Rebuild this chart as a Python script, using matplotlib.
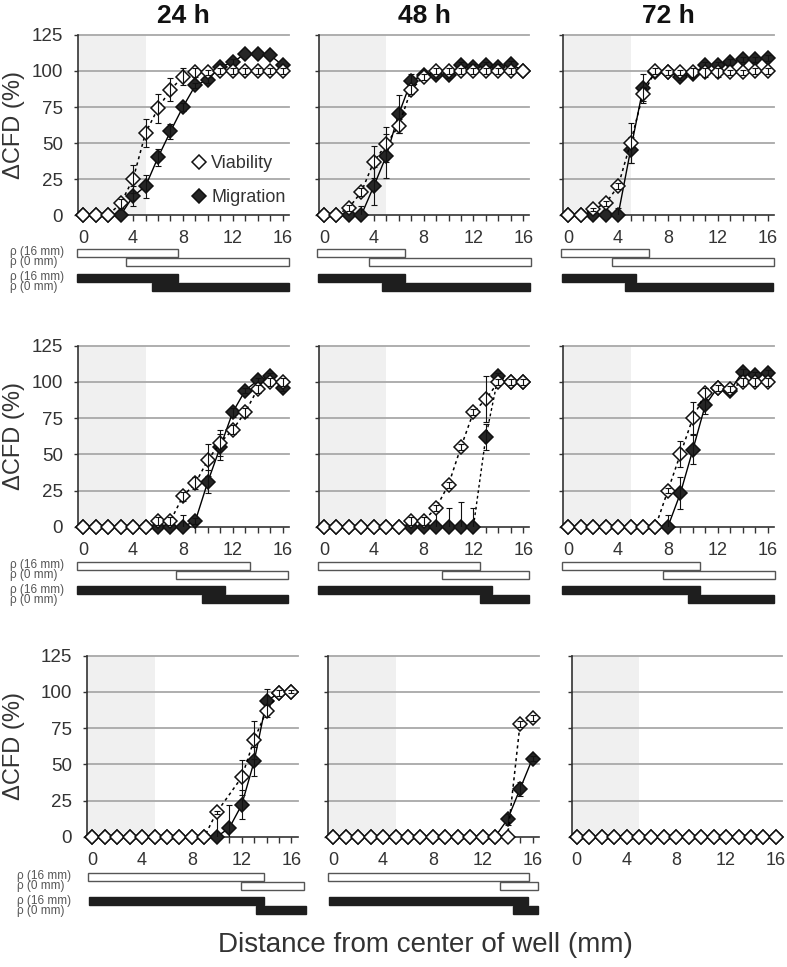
import numpy as np
import matplotlib
matplotlib.use('Agg')
import matplotlib.pyplot as plt
from matplotlib.lines import Line2D

plt.rcParams['font.family'] = ['Liberation Sans', 'DejaVu Sans']

W, H = 787, 967
fig = plt.figure(figsize=(W / 100, H / 100), dpi=100)

# ---------------- data ----------------
dist = np.arange(17)
nan = np.nan
col_titles = ['24 h', '48 h', '72 h']

# row 1
via_r1_24 = [0, 0, 0, 8, 25, 57, 74, 87, 96, 99, 99, 100, 100, 100, 100, 100, 100]
mig_r1_24 = [0, 0, 0, 0, 13, 20, 40, 58, 75, 90, 94, 103, 106, 112, 112, 111, 104]
via_r1_48 = [0, 0, 5, 16, 37, 49, 62, 87, 96, 100, 100, 100, 100, 100, 100, 100, 100]
mig_r1_48 = [0, 0, 0, 0, 20, 41, 70, 93, 97, 97, 97, 104, 103, 104, 103, 105, 100]
via_r1_72 = [0, 0, 4, 8, 20, 50, 84, 100, 99, 99, 99, 99, 99, 99, 99, 100, 100]
mig_r1_72 = [0, 0, 0, 0, 0, 45, 88, 99, 99, 96, 98, 104, 104, 106, 108, 108, 109]
# row 2
via_r2_24 = [0, 0, 0, 0, 0, 0, 4, 4, 21, 30, 46, 58, 67, 79, 95, 100, 100]
mig_r2_24 = [0, 0, 0, 0, 0, 0, 0, 0, 0, 4, 31, 55, 79, 94, 101, 104, 96]
via_r2_48 = [0, 0, 0, 0, 0, 0, 0, 4, 4, 13, 29, 55, 79, 88, 100, 100, 100]
mig_r2_48 = [0, 0, 0, 0, 0, 0, 0, 0, 0, 0, 0, 0, 0, 62, 104, 100, 100]
via_r2_72 = [0, 0, 0, 0, 0, 0, 0, 0, 25, 50, 75, 92, 96, 95, 100, 100, 100]
mig_r2_72 = [0, 0, 0, 0, 0, 0, 0, 0, 0, 23, 53, 84, 96, 94, 107, 105, 106]
# row 3
via_r3_24 = [0, 0, 0, 0, 0, 0, 0, 0, 0, 0, 17, nan, 41, 67, 87, 99, 100]
mig_r3_24 = [0, 0, 0, 0, 0, 0, 0, 0, 0, 0, 0, 6, 22, 52, 94, 99, 100]
via_r3_48 = [0, 0, 0, 0, 0, 0, 0, 0, 0, 0, 0, 0, 0, 0, 0, 78, 82]
mig_r3_48 = [0, 0, 0, 0, 0, 0, 0, 0, 0, 0, 0, 0, 0, 0, 12, 33, 54]
via_r3_72 = [0] * 17
mig_r3_72 = [0] * 17

# error bars (SD)
via_err_r1_24 = [0, 0, 0, 3, 10, 10, 10, 8, 6, 3, 2, 2, 2, 2, 2, 2, 2]
mig_err_r1_24 = [0, 0, 0, 0, 7, 8, 6, 5, 3, 2, 2, 2, 2, 0, 0, 0, 0]
via_err_r1_48 = [0, 0, 2, 3, 11, 12, 5, 3, 2, 2, 2, 2, 2, 2, 2, 2, 0]
mig_err_r1_48 = [0, 0, 0, 6, 13, 15, 13, 5, 2, 2, 2, 2, 2, 2, 2, 2, 0]
via_err_r1_72 = [0, 0, 1, 2, 2, 14, 5, 2, 2, 2, 3, 3, 3, 2, 2, 2, 2]
mig_err_r1_72 = [0, 0, 0, 0, 5, 9, 10, 2, 2, 2, 2, 2, 2, 2, 2, 2, 2]
via_err_r2_24 = [0, 0, 0, 0, 0, 0, 3, 3, 3, 4, 11, 9, 3, 3, 3, 3, 3]
mig_err_r2_24 = [0, 0, 0, 0, 0, 0, 0, 0, 8, 2, 8, 9, 3, 2, 2, 2, 2]
via_err_r2_48 = [0, 0, 0, 0, 0, 0, 0, 3, 3, 2, 2, 2, 2, 16, 2, 2, 2]
mig_err_r2_48 = [0, 0, 0, 0, 0, 0, 0, 0, 0, 10, 13, 17, 13, 9, 2, 0, 0]
via_err_r2_72 = [0, 0, 0, 0, 0, 0, 0, 0, 2, 9, 11, 4, 2, 2, 3, 3, 3]
mig_err_r2_72 = [0, 0, 0, 0, 0, 0, 0, 0, 8, 11, 10, 6, 2, 2, 2, 2, 2]
via_err_r3_24 = [0, 0, 0, 0, 0, 0, 0, 0, 0, 0, 1, 0, 12, 13, 4, 2, 1]
mig_err_r3_24 = [0, 0, 0, 0, 0, 0, 0, 0, 0, 0, 15, 16, 10, 10, 8, 2, 0]
via_err_r3_48 = [0] * 15 + [2, 2]
mig_err_r3_48 = [0] * 14 + [4, 5, 2]
via_err_r3_72 = [0] * 17
mig_err_r3_72 = [0] * 17

# rho significance ranges (start, end in mm): [white 16mm, white 0mm, black 16mm, black 0mm]
rho_r1_24 = [(-0.48, 7.58), (3.44, 16.53), (-0.48, 7.58), (5.51, 16.53)]
rho_r1_48 = [(-0.53, 6.48), (3.63, 16.6), (-0.45, 6.48), (4.67, 16.56)]
rho_r1_72 = [(-0.59, 6.47), (3.48, 16.5), (-0.53, 5.43), (4.55, 16.44)]
rho_r2_24 = [(-0.53, 13.41), (7.47, 16.48), (-0.53, 11.41), (9.52, 16.43)]
rho_r2_48 = [(-0.45, 12.54), (9.44, 16.47), (-0.45, 13.5), (12.51, 16.47)]
rho_r2_72 = [(-0.48, 10.56), (7.59, 16.58), (-0.48, 10.56), (9.6, 16.52)]
rho_r3_24 = [(-0.32, 13.79), (11.95, 17.03), (-0.27, 13.79), (13.11, 17.13)]
rho_r3_48 = [(-0.4, 15.68), (13.4, 16.43), (-0.35, 15.63), (14.42, 16.43)]
rho_r3_72 = None
rho_label_pair = 'ρ (16 mm)\nρ (0 mm)'

via = [[via_r1_24, via_r1_48, via_r1_72], [via_r2_24, via_r2_48, via_r2_72], [via_r3_24, via_r3_48, via_r3_72]]
mig = [[mig_r1_24, mig_r1_48, mig_r1_72], [mig_r2_24, mig_r2_48, mig_r2_72], [mig_r3_24, mig_r3_48, mig_r3_72]]
via_err = [[via_err_r1_24, via_err_r1_48, via_err_r1_72], [via_err_r2_24, via_err_r2_48, via_err_r2_72],
           [via_err_r3_24, via_err_r3_48, via_err_r3_72]]
mig_err = [[mig_err_r1_24, mig_err_r1_48, mig_err_r1_72], [mig_err_r2_24, mig_err_r2_48, mig_err_r2_72],
           [mig_err_r3_24, mig_err_r3_48, mig_err_r3_72]]
rho = [[rho_r1_24, rho_r1_48, rho_r1_72], [rho_r2_24, rho_r2_48, rho_r2_72], [rho_r3_24, rho_r3_48, rho_r3_72]]
mig_dotted = [[False, False, False], [False, True, False], [False, False, False]]

# ---------------- layout (pixels) ----------------
STEP = 12.45
XMIN, XMAX = -0.4, 16.5
row_top = [35, 345.7, 655.7]
row_bot = [215, 526.7, 836.7]
col_x0 = [[83.3, 324, 568.3], [83.3, 324, 568.3], [92.3, 333.3, 576.7]]
bar_c0 = [252.8, 565.5, 876.5]
bar_off = [0, 9, 24.7, 33.7]
lab_x = [10, 10, 17]

DARK = '#333333'


def add_ax_px(left, top, width, height):
    return fig.add_axes([left / W, 1 - (top + height) / H, width / W, height / H])


def draw_series(ax, y, err, face, ls, lw, z):
    y = np.asarray(y, dtype=float)
    err = np.asarray(err, dtype=float)
    m = np.isfinite(y)
    ax.plot(dist[m], y[m], ls=ls, lw=lw, color='black', marker='D', ms=6.8,
            mfc=face, mec='#111111', mew=1.1, zorder=z, clip_on=False)
    e = m & (err > 0)
    if e.any():
        ax.errorbar(dist[e], y[e], yerr=err[e], fmt='none', ecolor='#111111',
                    elinewidth=0.8, capsize=2.5, capthick=0.8, zorder=z + 0.5)


for r in range(3):
    for c in range(3):
        x0 = col_x0[r][c]
        left = x0 + XMIN * STEP
        width = (XMAX - XMIN) * STEP
        ax = add_ax_px(left, row_top[r], width, row_bot[r] - row_top[r])
        ax.set_xlim(XMIN, XMAX)
        ax.set_ylim(0, 125)
        ax.axvspan(XMIN, 5, color='#f0f0f0', zorder=0, lw=0)
        for g in [25, 50, 75, 100, 125]:
            ax.axhline(g, color='#a8a8a8', lw=1.3, zorder=1, clip_on=False)
        for s in ['top', 'right']:
            ax.spines[s].set_visible(False)
        ax.spines['left'].set_color(DARK)
        ax.spines['left'].set_linewidth(1.2)
        ax.spines['bottom'].set_color(DARK)
        ax.spines['bottom'].set_linewidth(1.2)
        ax.set_xticks(dist)
        ax.set_xticklabels([str(v) if v % 4 == 0 else '' for v in dist])
        ax.set_yticks([0, 25, 50, 75, 100, 125])
        if c == 0:
            ax.set_yticklabels(['0', '25', '50', '75', '100', '125'])
        else:
            ax.set_yticklabels([])
        ax.tick_params(axis='x', direction='out', length=4, width=1, color=DARK,
                       pad=7, labelsize=13, labelcolor=DARK)
        ax.tick_params(axis='y', direction='out', length=3, width=1, color=DARK,
                       pad=8, labelsize=13.5, labelcolor=DARK)

        draw_series(ax, mig[r][c], mig_err[r][c], '#262626',
                    (0, (2, 2)) if mig_dotted[r][c] else '-', 1.0, 3)
        draw_series(ax, via[r][c], via_err[r][c], 'white', (0, (2, 2.2)), 1.1, 5)

        if r == 0 and c == 0:
            h1 = Line2D([], [], ls='none', marker='D', ms=6.8, mfc='white', mec='#111111', mew=1.1)
            h2 = Line2D([], [], ls='none', marker='D', ms=6.8, mfc='#262626', mec='#111111', mew=1.1)
            ax.legend([h1, h2], ['Viability', 'Migration'], loc='center left',
                      bbox_to_anchor=(0.46, 0.19), frameon=False, fontsize=13,
                      handlelength=0.8, handletextpad=0.3, labelspacing=0.95,
                      labelcolor=DARK)

        # rho bars
        if rho[r][c] is not None:
            bax = add_ax_px(left, bar_c0[r] - 6, width, 46)
            bax.set_xlim(XMIN, XMAX)
            bax.set_ylim(40, -6)
            bax.axis('off')
            for i, (s, e) in enumerate(rho[r][c]):
                white = i < 2
                bax.barh(bar_off[i], e - s, left=s, height=8,
                         color='white' if white else '#1e1e1e',
                         edgecolor='#555555' if white else '#1e1e1e',
                         lw=1.0, clip_on=False)
            if c == 0:
                for k in range(2):
                    yc = bar_c0[r] + (bar_off[2 * k] + bar_off[2 * k + 1]) / 2
                    fig.text(lab_x[r] / W, 1 - yc / H, rho_label_pair,
                             fontsize=8.5, color='#555555', ha='left', va='center',
                             linespacing=0.78)

# titles
for c in range(3):
    left = col_x0[0][c] + XMIN * STEP
    cx = left + (XMAX - XMIN) * STEP / 2
    fig.text(cx / W, 1 - 16 / H, col_titles[c], fontsize=19, fontweight='bold',
             ha='center', va='center', color='#111111')

for r in range(3):
    cy = (row_top[r] + row_bot[r]) / 2
    fig.text(14 / W, 1 - cy / H, 'ΔCFD (%)', rotation=90, fontsize=17,
             ha='center', va='center', color=DARK)

fig.text(425 / W, 1 - 945 / H, 'Distance from center of well (mm)', fontsize=20,
         ha='center', va='center', color=DARK)

fig.savefig('out.png', dpi=100)
